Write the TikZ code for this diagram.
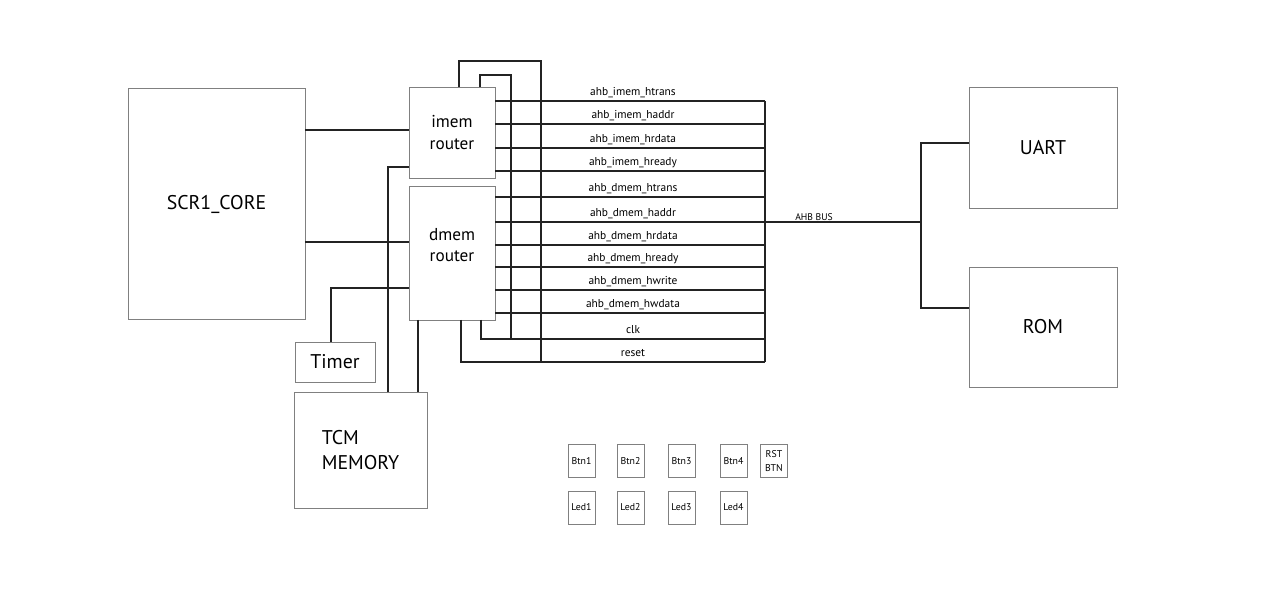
\documentclass[tikz,border=0pt]{standalone}
\usepackage{fontspec}
\setmainfont{PT Sans}
\usetikzlibrary{calc}

\definecolor{boxgray}{RGB}{128,128,128}
\definecolor{wirecol}{RGB}{35,35,35}

\begin{document}
\begin{tikzpicture}[x=0.02cm, y=-0.02cm,
	box/.style={draw=boxgray, line width=.55pt, inner sep=0pt, outer sep=0pt, align=center},
	bigbox/.style={box, font=\fontsize{11.3}{14.7}\selectfont},
	router/.style={box, minimum width=1.72cm, font=\fontsize{9.8}{12}\selectfont},
	iobox/.style={box, minimum width=.54cm, minimum height=.66cm, font=\fontsize{5.6}{8}\selectfont},
	sig/.style={inner sep=0pt, anchor=base, font=\fontsize{6.5}{8}\selectfont},
	wire/.style={draw=wirecol, line width=.6pt}]
	
	\useasboundingbox (0,0) rectangle (1280,604);
	
	%---------------------------------------------
	
	\node[bigbox, minimum width=3.54cm, minimum height=4.64cm] (core) at (216.5,204) {SCR1\_CORE};
	\node[router, minimum height=1.82cm] (imem) at (452,132.5) {imem\\router};
	\node[router, minimum height=2.68cm,
		label={[yshift=.16cm, align=center, font=\fontsize{9.8}{12}\selectfont]center:dmem\\router}] (dmem) at (452,253) {};
	\node[bigbox, minimum width=1.6cm, minimum height=.8cm] (timer) at (335,362) {Timer};
	\node[bigbox, minimum width=2.66cm, minimum height=2.32cm, align=left] (tcm) at (360.5,450) {TCM\\MEMORY};
	\node[bigbox, minimum width=2.96cm, minimum height=2.42cm] (uart) at (1043,147.5) {UART};
	\node[bigbox, minimum width=2.96cm, minimum height=2.40cm] (rom) at (1043,327) {ROM};
	
	\foreach \n/\x in {1/581.5, 2/630.5, 3/681.5, 4/733.5} {
		\node[iobox] (btn\n) at (\x,461) {Btn\n};
		\node[iobox] (led\n) at (\x,507.5) {Led\n};
	}
	\node[iobox] (rstbtn) at (774,461) {RST\\BTN};
	
	%---------------------------------------------
	
	\foreach \i/\y/\name in {1/101/ahb\_imem\_htrans, 2/124/ahb\_imem\_haddr,
		3/148/ahb\_imem\_hrdata, 4/171/ahb\_imem\_hready,
		5/197/ahb\_dmem\_htrans, 6/222/ahb\_dmem\_haddr,
		7/245/ahb\_dmem\_hrdata, 8/267/ahb\_dmem\_hready,
		9/290/ahb\_dmem\_hwrite, 10/313/ahb\_dmem\_hwdata,
		11/339/clk, 12/362/reset} {
		\coordinate (r\i) at (765,\y);
		\node[sig] (lbl\i) at (633,\y-5.5) {\name};
	}
	
	\foreach \i in {1,...,4} {
		\draw[wire] (imem.east |- r\i) -- (r\i);
	}
	\foreach \i in {5,...,10} {
		\draw[wire] (dmem.east |- r\i) -- (r\i);
	}
	
	%---------------------------------------------
	
	\coordinate (clkup) at (480,75);
	\coordinate (clkdn) at (511,75);
	\coordinate (clkx) at (481,0);
	\coordinate (rstup) at (459,61);
	\coordinate (rstdn) at (541,61);
	\coordinate (rstx) at (461,0);
	
	\draw[wire] (imem.north -| clkup) |- (clkdn) -- (clkdn |- r11);
	\draw[wire] (imem.north -| rstup) |- (rstdn) -- (rstdn |- r12);
	\draw[wire] (dmem.south -| clkx) |- (r11);
	\draw[wire] (dmem.south -| rstx) |- (r12);
	\draw[wire] (r1) -- (r12);
	
	%---------------------------------------------
	
	\coordinate (hub) at (921,222);
	\coordinate (uartin) at (0,143);
	\coordinate (romin) at (0,308);
	
	\draw[wire] (r6) -- (hub);
	\draw[wire] (uart.west |- uartin) -| (hub) |- (rom.west |- romin);
	\node[sig, font=\fontsize{5.5}{7}\selectfont] (ahb) at (814,220.5) {AHB BUS};
	
	%---------------------------------------------
	
	\coordinate (corei) at (0,130);
	\coordinate (cored) at (0,242);
	\coordinate (tcmi) at (388,167);
	\coordinate (tmr) at (331,288);
	\coordinate (tcmd) at (418,0);
	
	\draw[wire] (core.east |- corei) -- (imem.west |- corei);
	\draw[wire] (core.east |- cored) -- (dmem.west |- cored);
	\draw[wire] (imem.west |- tcmi) -| (tcm.north -| tcmi);
	\draw[wire] (dmem.west |- tmr) -| (timer.north -| tmr);
	\draw[wire] (dmem.south -| tcmd) -- (tcm.north -| tcmd);
	
	%---------------------------------------------
	
\end{tikzpicture}
\end{document}
